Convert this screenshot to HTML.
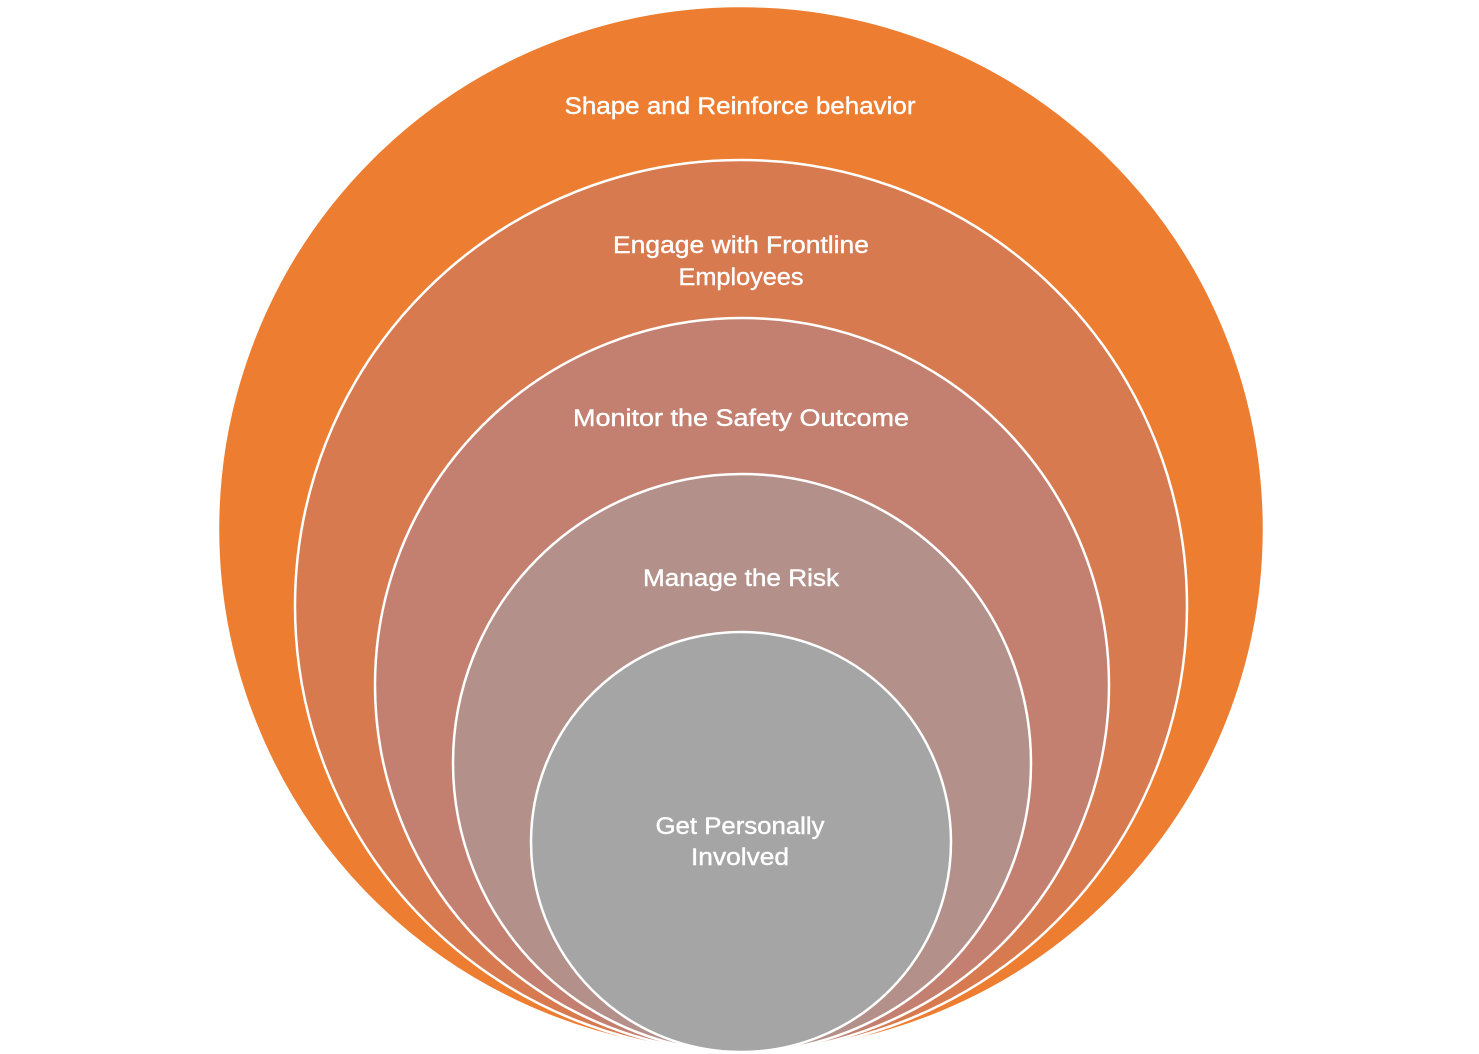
<!DOCTYPE html>
<html><head><meta charset="utf-8"><style>html,body{margin:0;padding:0;background:#fff}svg{display:block}</style></head>
<body>
<svg width="1479" height="1054" viewBox="0 0 1479 1054" xmlns="http://www.w3.org/2000/svg">
<g stroke="#fff" stroke-width="2.5">
<circle cx="741" cy="529" r="523" fill="#ED7D31"/>
<circle cx="741" cy="606" r="446" fill="#D87A50"/>
<circle cx="742" cy="685" r="367" fill="#C38070"/>
<circle cx="742" cy="763" r="289" fill="#B3918A"/>
<circle cx="741" cy="842" r="210" fill="#A5A5A5"/>
</g>
<g fill="#fff" stroke="#fff" stroke-width="0.4" font-family="Liberation Sans, sans-serif" font-size="24" text-anchor="middle" lengthAdjust="spacingAndGlyphs">
<text x="740" y="114" textLength="351" lengthAdjust="spacingAndGlyphs">Shape and Reinforce behavior</text>
<text x="741" y="253" textLength="256" lengthAdjust="spacingAndGlyphs">Engage with Frontline</text>
<text x="741" y="285" textLength="125" lengthAdjust="spacingAndGlyphs">Employees</text>
<text x="741" y="426" textLength="336" lengthAdjust="spacingAndGlyphs">Monitor the Safety Outcome</text>
<text x="741" y="586" textLength="196" lengthAdjust="spacingAndGlyphs">Manage the Risk</text>
<text x="740" y="834" textLength="169" lengthAdjust="spacingAndGlyphs">Get Personally</text>
<text x="740" y="865" textLength="98" lengthAdjust="spacingAndGlyphs">Involved</text>
</g>
</svg>
</body></html>
